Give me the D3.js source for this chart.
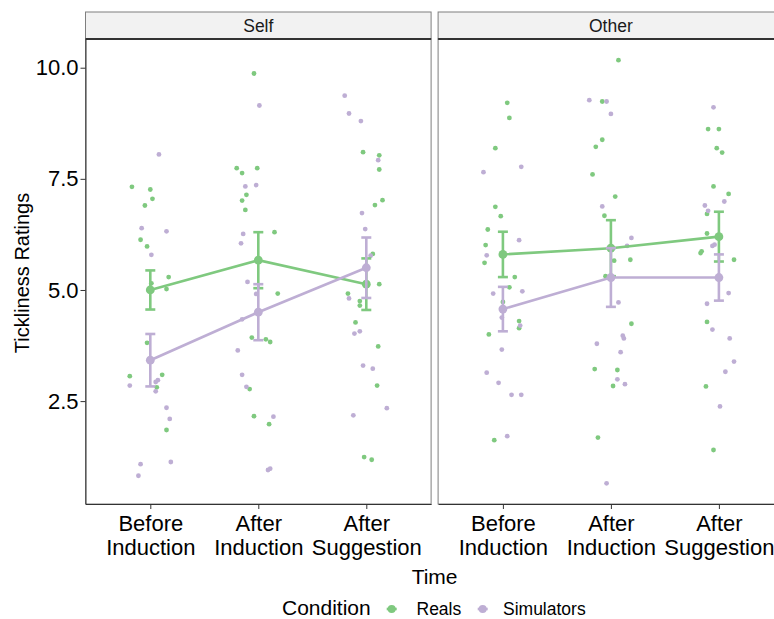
<!DOCTYPE html>
<html><head><meta charset="utf-8">
<script src="https://cdn.jsdelivr.net/npm/d3@7"></script>
<style>body{margin:0;background:#fff}text{font-family:"Liberation Sans",Arial,sans-serif}</style>
</head><body>
<script>
// ---------- data ----------
const panels = ["Self", "Other"];
const conditions = ["Reals", "Simulators"];
const timeLabels = [["Before", "Induction"], ["After", "Induction"], ["After", "Suggestion"]];
const yTicks = [2.5, 5.0, 7.5, 10.0];

// individual ratings per time point [Before Induction, After Induction, After Suggestion]
const selfReals = [
  [7.32, 7.26, 7.05, 6.90, 6.13, 5.98, 5.29, 5.15, 5.02, 3.81, 3.06, 3.09, 2.81, 1.85],
  [9.87, 7.74, 7.63, 7.74, 7.14, 7.01, 6.80, 6.30, 4.92, 3.93, 3.89, 3.83, 2.77, 2.16, 1.98],
  [8.10, 8.03, 7.71, 7.02, 6.91, 5.81, 5.13, 4.92, 4.75, 4.65, 4.27, 3.73, 2.85, 1.24, 1.18]
];
const selfRealsJitter = [
  [-0.17, 0.00, 0.02, -0.05, -0.09, -0.03, 0.17, 0.01, 0.15, -0.03, -0.19, 0.11, 0.06, 0.15],
  [-0.04, -0.20, -0.15, -0.01, -0.11, -0.15, -0.12, 0.15, 0.18, -0.06, 0.07, 0.11, -0.08, -0.04, 0.10],
  [-0.03, 0.12, 0.12, 0.15, 0.08, 0.06, 0.12, -0.17, -0.06, -0.06, -0.10, 0.11, 0.10, -0.02, 0.05]
];
const selfSims = [
  [8.05, 6.39, 6.32, 5.79, 3.39, 2.85, 2.97, 2.93, 2.72, 2.35, 2.10, 1.13, 1.08, 0.82],
  [9.15, 7.33, 7.36, 6.26, 6.05, 5.18, 4.91, 4.34, 3.64, 3.09, 2.82, 2.15, 0.95, 0.98],
  [9.37, 8.97, 8.80, 7.92, 6.73, 6.37, 5.77, 4.81, 4.07, 4.02, 3.30, 3.23, 2.34, 2.18]
];
const selfSimsJitter = [
  [0.08, -0.08, 0.15, 0.01, 0.01, -0.19, 0.07, 0.05, 0.05, 0.15, 0.18, 0.19, -0.09, -0.11],
  [0.01, -0.12, -0.02, -0.14, -0.16, -0.10, -0.02, -0.15, -0.19, -0.15, -0.11, 0.14, 0.09, 0.11],
  [-0.20, -0.16, -0.05, 0.11, -0.04, -0.01, 0.04, -0.16, -0.06, -0.11, -0.03, 0.06, 0.19, -0.12]
];
const otherReals = [
  [9.21, 8.87, 8.19, 6.87, 6.66, 6.36, 6.01, 5.61, 5.29, 5.06, 4.73, 4.30, 4.14, 4.00, 1.62],
  [10.17, 9.24, 8.38, 8.22, 7.60, 7.10, 6.67, 5.66, 5.68, 5.31, 4.24, 3.22, 3.20, 2.84, 1.68],
  [8.62, 8.62, 8.19, 8.09, 7.33, 7.16, 6.71, 6.27, 5.83, 5.87, 5.68, 4.28, 2.83, 1.40]
];
const otherRealsJitter = [
  [0.04, 0.06, -0.07, -0.07, -0.02, -0.14, -0.16, -0.17, 0.11, 0.06, 0.00, 0.15, 0.15, -0.13, -0.08],
  [0.07, -0.08, -0.08, -0.14, -0.17, 0.04, -0.06, 0.03, 0.18, -0.05, 0.19, -0.15, 0.06, 0.02, -0.12],
  [-0.10, 0.00, -0.02, 0.03, -0.05, 0.09, -0.11, -0.11, -0.17, -0.16, 0.14, -0.11, -0.12, -0.05]
];
const otherSims = [
  [7.65, 7.77, 6.12, 5.78, 4.92, 4.97, 4.38, 4.20, 3.66, 3.14, 2.91, 2.64, 2.64, 1.71],
  [9.27, 9.24, 8.96, 6.88, 6.17, 5.99, 4.72, 3.97, 3.91, 3.79, 3.60, 2.99, 2.88, 0.65],
  [9.11, 6.99, 6.90, 6.78, 5.99, 6.02, 4.93, 4.69, 4.11, 3.91, 3.39, 3.16, 2.38]
];
const otherSimsJitter = [
  [-0.18, 0.17, 0.15, -0.15, -0.09, 0.18, -0.01, 0.16, -0.01, -0.15, -0.04, 0.08, 0.17, 0.04],
  [-0.20, -0.04, 0.00, -0.08, 0.19, 0.15, 0.07, 0.11, 0.12, -0.13, 0.09, 0.06, 0.13, -0.04],
  [-0.05, 0.05, -0.13, -0.10, -0.06, -0.04, 0.09, -0.11, -0.06, 0.10, 0.14, 0.06, 0.01]
];

// group means and standard errors
const selfRealsMean = [5.00, 5.67, 5.13];
const selfRealsSE   = [0.44, 0.63, 0.58];
const selfSimsMean  = [3.42, 4.50, 5.50];
const selfSimsSE    = [0.59, 0.63, 0.68];
const otherRealsMean = [5.80, 5.94, 6.20];
const otherRealsSE   = [0.51, 0.63, 0.56];
const otherSimsMean  = [4.57, 5.28, 5.28];
const otherSimsSE    = [0.50, 0.66, 0.52];

const colors = {Reals: "#7FC97F", Simulators: "#BEAED4"};

const panelData = {
  Self: {
    Reals: {vals: selfReals, jit: selfRealsJitter, mean: selfRealsMean, se: selfRealsSE},
    Simulators: {vals: selfSims, jit: selfSimsJitter, mean: selfSimsMean, se: selfSimsSE}
  },
  Other: {
    Reals: {vals: otherReals, jit: otherRealsJitter, mean: otherRealsMean, se: otherRealsSE},
    Simulators: {vals: otherSims, jit: otherSimsJitter, mean: otherSimsMean, se: otherSimsSE}
  }
};

// ---------- layout ----------
const W = 774, H = 619;
const panelW = 345.6, gap = 7, left0 = 85.5;
const pTop = 39, pBottom = 504, stripTop = 12;
const svg = d3.select("body").append("svg").attr("width", W).attr("height", H);

const y = d3.scaleLinear().domain([0.185, 10.646]).range([pBottom, pTop]);
const x = d3.scaleLinear().domain([0.4, 3.6]).range([0, panelW]);

panels.forEach((p, pi) => {
  const g = svg.append("g").attr("transform", `translate(${left0 + pi * (panelW + gap)},0)`);
  // panel border
  g.append("rect").attr("x", 0).attr("y", pTop).attr("width", panelW).attr("height", pBottom - pTop)
    .attr("fill", "#fff").attr("stroke", "#7f7f7f").attr("stroke-width", 1);
  // strip
  g.append("rect").attr("x", 0).attr("y", stripTop).attr("width", panelW).attr("height", pTop - stripTop)
    .attr("fill", "#F2F2F2").attr("stroke", "#7f7f7f").attr("stroke-width", 1);
  g.append("line").attr("x1", 0).attr("x2", panelW).attr("y1", pTop).attr("y2", pTop)
    .attr("stroke", "#333").attr("stroke-width", 2);
  g.append("text").attr("x", panelW / 2).attr("y", (stripTop + pTop) / 2).attr("dy", "0.35em")
    .attr("text-anchor", "middle").attr("font-size", 17.5).attr("fill", "#1a1a1a").text(p);

  // jittered points
  conditions.forEach(c => {
    const d = panelData[p][c];
    const pts = [];
    d.vals.forEach((arr, ti) => arr.forEach((v, k) => pts.push({t: ti + 1 + d.jit[ti][k], v})));
    g.append("g").selectAll("circle").data(pts).join("circle")
      .attr("cx", e => x(e.t)).attr("cy", e => y(e.v)).attr("r", 2.4)
      .attr("fill", colors[c]);
  });
  // summaries
  conditions.forEach(c => {
    const d = panelData[p][c];
    const ms = d.mean.map((m, i) => ({t: i + 1, m, se: d.se[i]}));
    const sg = g.append("g");
    sg.append("path").datum(ms).attr("fill", "none").attr("stroke", colors[c]).attr("stroke-width", 2.6)
      .attr("d", d3.line().x(e => x(e.t)).y(e => y(e.m)));
    ms.forEach(e => {
      const cx = x(e.t);
      sg.append("line").attr("x1", cx).attr("x2", cx).attr("y1", y(e.m - e.se)).attr("y2", y(e.m + e.se))
        .attr("stroke", colors[c]).attr("stroke-width", 2.6);
      [e.m - e.se, e.m + e.se].forEach(v => sg.append("line").attr("x1", cx - 5).attr("x2", cx + 5)
        .attr("y1", y(v)).attr("y2", y(v)).attr("stroke", colors[c]).attr("stroke-width", 2.6));
      sg.append("circle").attr("cx", cx).attr("cy", y(e.m)).attr("r", 4.4).attr("fill", colors[c]);
    });
  });

  // x axis
  const xa = g.append("g").attr("transform", `translate(0,${pBottom})`)
    .call(d3.axisBottom(x).tickValues([1, 2, 3]).tickSize(5).tickSizeOuter(0).tickFormat(""));
  xa.select(".domain").attr("stroke", "#333");
  xa.selectAll(".tick line").attr("stroke", "#333");
  xa.selectAll(".tick").each(function(d) {
    const t = d3.select(this).append("text").attr("fill", "#000").attr("font-size", 22)
      .attr("text-anchor", "middle").attr("y", 27);
    timeLabels[d - 1].forEach((s, i) => t.append("tspan").attr("x", 0).attr("dy", i === 0 ? 0 : 24).text(s));
  });

  if (pi === 0) {
    const ya = g.append("g")
      .call(d3.axisLeft(y).tickValues(yTicks).tickSize(5).tickSizeOuter(0).tickPadding(2).tickFormat(d3.format(".1f")));
    ya.select(".domain").attr("stroke", "#333");
    ya.selectAll(".tick line").attr("stroke", "#333");
    ya.selectAll(".tick text").attr("font-size", 22).attr("fill", "#000")
      .attr("font-family", '"Liberation Sans",Arial,sans-serif');
  }
});

// axis titles
svg.append("text").attr("x", left0 + panelW + gap / 2).attr("y", 584).attr("text-anchor", "middle")
  .attr("font-size", 21).attr("fill", "#000").text("Time");
svg.append("text").attr("transform", "translate(28.5,273) rotate(-90)").attr("text-anchor", "middle")
  .attr("font-size", 20).attr("fill", "#000").text("Tickliness Ratings");

// legend
const lg = svg.append("g");
lg.append("text").attr("x", 282).attr("y", 614.5).attr("font-size", 21).attr("fill", "#000").text("Condition");
const keys = [{c: "Reals", kx: 391.7, tx: 416.5}, {c: "Simulators", kx: 482.7, tx: 503}];
keys.forEach(k => {
  lg.append("line").attr("x1", k.kx - 5).attr("x2", k.kx + 5).attr("y1", 609).attr("y2", 609)
    .attr("stroke", colors[k.c]).attr("stroke-width", 2.6);
  lg.append("circle").attr("cx", k.kx).attr("cy", 609).attr("r", 4).attr("fill", colors[k.c]);
  lg.append("text").attr("x", k.tx).attr("y", 614.5).attr("font-size", 17.5).attr("fill", "#000").text(k.c);
});
</script>
</body></html>
